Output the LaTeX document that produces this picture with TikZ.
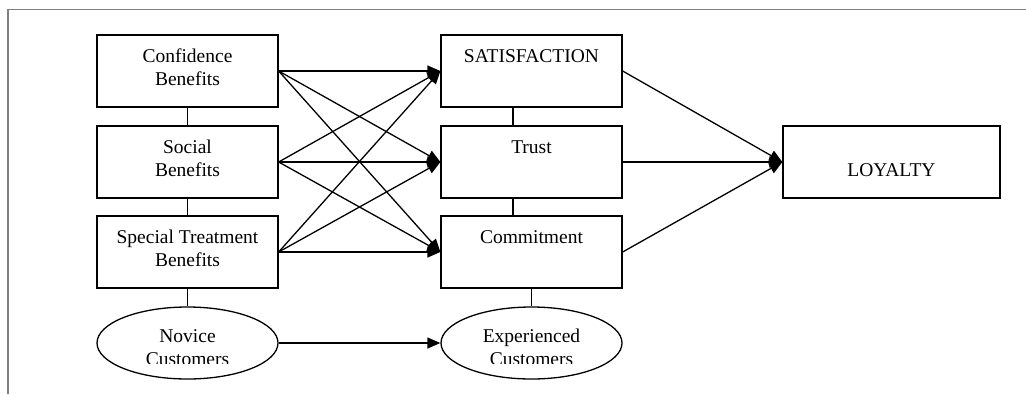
\documentclass[tikz,border=0pt]{standalone}
\usepackage{fontspec}
\setmainfont{Liberation Serif}
\usetikzlibrary{shapes.geometric,arrows.meta}
\begin{document}
\begin{tikzpicture}[x=1pt,y=-1pt,
  box/.style={draw,line width=1.3pt,minimum width=181pt,minimum height=72pt,inner sep=0pt},
  oval/.style={draw,ellipse,line width=1.3pt,minimum width=181pt,minimum height=72pt,inner sep=0pt},
  lbl/.style={anchor=north,align=center,inner sep=0pt,font=\fontsize{19.5}{23}\selectfont},
  arr/.style={line width=1.3pt,-{Triangle[length=13pt,width=11pt]}},
  link/.style={line width=1.3pt}]
\useasboundingbox (0,0) rectangle (1026,394);
\draw[gray,line width=1.4pt] (8,394) -- (8,9.5) -- (1026,9.5);
% left column
\node[box] (cb) at (187.5,71) {};
\node[box] (sb) at (187.5,162) {};
\node[box] (st) at (187.5,252) {};
\node[oval] (nc) at (187.5,343) {};
% middle column
\node[box] (sat) at (531.5,71) {};
\node[box] (tr) at (531.5,162) {};
\node[box] (cm) at (531.5,252) {};
\node[oval] (ec) at (531.5,343) {};
% loyalty
\node[box,minimum width=217pt] (loy) at (891.5,162) {};
% labels
\node[lbl,yshift=-12pt] (cbt) at (cb.north) {\strut Confidence\\Benefits};
\node[lbl,yshift=-12pt] (sbt) at (sb.north) {\strut Social\\Benefits};
\node[lbl,yshift=-12pt] (stt) at (st.north) {\strut Special Treatment\\Benefits};
\node[lbl,yshift=-12pt] (satt) at (sat.north) {\strut SATISFACTION};
\node[lbl,yshift=-12pt] (trt) at (tr.north) {\strut Trust};
\node[lbl,yshift=-12pt] (cmt) at (cm.north) {\strut Commitment};
\node[lbl,yshift=-35pt] (loyt) at (loy.north) {\strut LOYALTY};
\begin{scope}
\clip (0,300) rectangle (1026,363);
\node[lbl,yshift=-20pt] (nct) at (nc.north) {\strut Novice\\Customers};
\node[lbl,yshift=-20pt] (ect) at (ec.north) {\strut Experienced\\Customers};
\end{scope}
% vertical links
\draw[link] (cb.south) -- (sb.north);
\draw[link] (sb.south) -- (st.north);
\draw[link] (st.south) -- (nc.north);
\draw[link] ([xshift=-18.5pt]sat.south) -- ([xshift=-18.5pt]tr.north);
\draw[link] ([xshift=-18.5pt]tr.south) -- ([xshift=-18.5pt]cm.north);
\draw[link] (cm.south) -- (ec.north);
% arrows
\foreach \s in {cb,sb,st}{
  \foreach \t in {sat,tr,cm}{
    \draw[arr] (\s.east) -- (\t.west);
  }
}
\foreach \s in {sat,tr,cm}{
  \draw[arr] (\s.east) -- (loy.west);
}
\draw[arr] (nc.east) -- (ec.west);
\end{tikzpicture}
\end{document}
